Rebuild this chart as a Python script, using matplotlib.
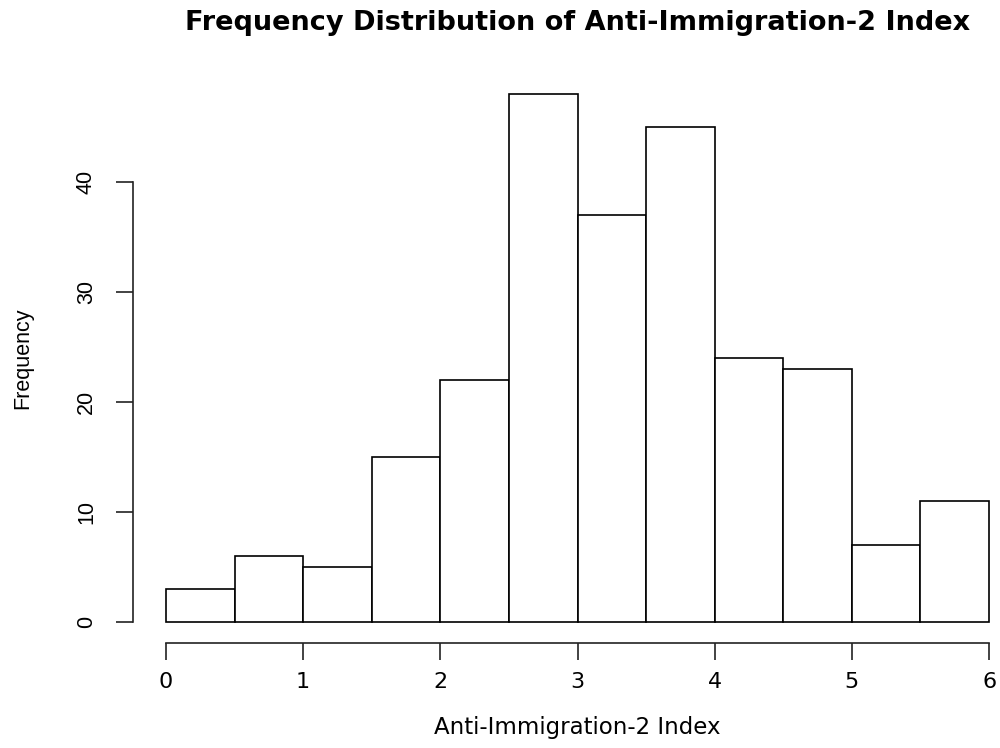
import numpy as np
import matplotlib.pyplot as plt

plt.rcParams['font.family'] = ['Liberation Sans', 'DejaVu Sans']

# histogram bins (width 0.5) and counts
bin_edges = [0.0, 0.5, 1.0, 1.5, 2.0, 2.5, 3.0, 3.5, 4.0, 4.5, 5.0, 5.5, 6.0]
counts = [3, 6, 5, 15, 22, 48, 37, 45, 24, 23, 7, 11]
x_ticks = [0, 1, 2, 3, 4, 5, 6]
y_ticks = [0, 10, 20, 30, 40]

fig = plt.figure(figsize=(10, 7.48), dpi=100)
# R-style plot region: data range padded by 4% on each side
ax = fig.add_axes([0.133, 0.1404, 0.889, 0.762])

lefts = np.array(bin_edges[:-1])
widths = np.diff(bin_edges)
ax.bar(lefts, counts, width=widths, align='edge', facecolor='white',
       edgecolor='black', linewidth=1.2)

xpad = 0.04 * (bin_edges[-1] - bin_edges[0])
ypad = 0.04 * max(counts)
ax.set_xlim(bin_edges[0] - xpad, bin_edges[-1] + xpad)
ax.set_ylim(-ypad, max(counts) + ypad)

for side in ['top', 'right']:
    ax.spines[side].set_visible(False)
ax.spines['left'].set_bounds(y_ticks[0], y_ticks[-1])
ax.spines['bottom'].set_bounds(x_ticks[0], x_ticks[-1])
for side in ['left', 'bottom']:
    ax.spines[side].set_linewidth(1.2)
    ax.spines[side].set_color('#222222')

wide = ['DejaVu Sans']

ax.set_xticks(x_ticks)
ax.set_xticklabels([str(v) for v in x_ticks], fontsize=16, family=wide)
ax.set_yticks(y_ticks)
ax.set_yticklabels([str(v) for v in y_ticks], rotation=90, va='center',
                   fontsize=15.5)
ax.tick_params(axis='both', length=12, width=1.2, color='#222222')
ax.tick_params(axis='x', pad=9)
ax.tick_params(axis='y', pad=14)

ax.set_xlabel('Anti-Immigration-2 Index', fontsize=16.5, family=wide,
              labelpad=17)
ax.set_ylabel('Frequency', fontsize=15.5, labelpad=31)
ax.set_title('Frequency Distribution of Anti-Immigration-2 Index',
             fontsize=19.5, fontweight='bold', family=wide, pad=31)

fig.savefig('out.png', dpi=100)
